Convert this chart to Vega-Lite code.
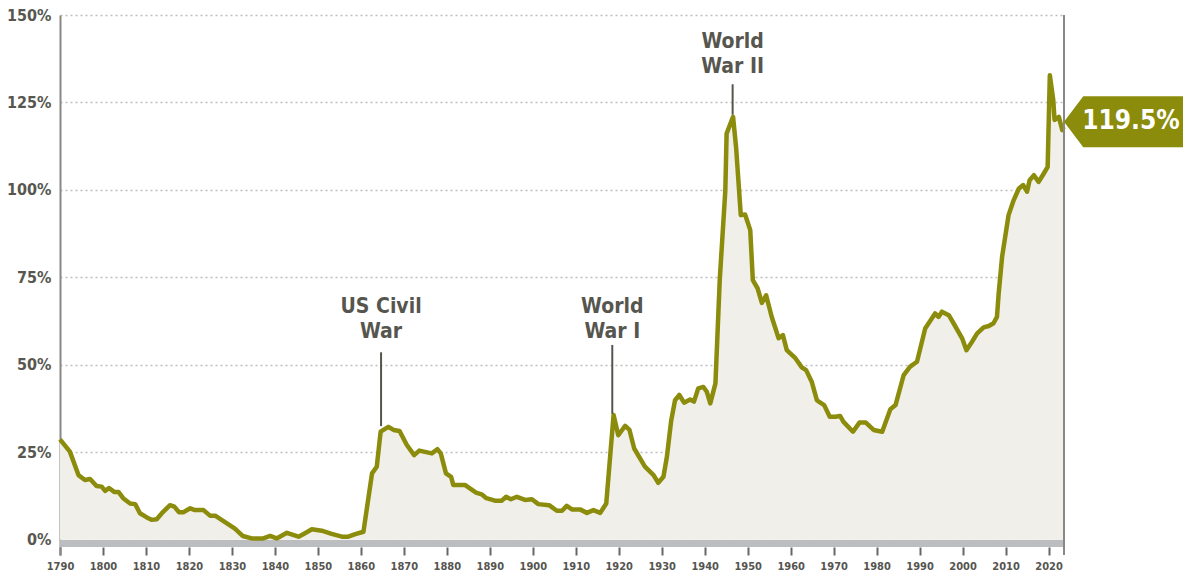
{
  "$schema": "https://vega.github.io/schema/vega-lite/v6.json",
  "width": 1004,
  "height": 540,
  "autosize": {"type": "none"},
  "padding": {"left": 60, "top": 15, "right": 119, "bottom": 20},
  "background": "white",
  "config": {"view": {"stroke": null}, "font": "DejaVu Sans Condensed, Liberation Sans Narrow, DejaVu Sans, sans-serif"},
  "datasets": {
    "debt": [
      {"year": 1790, "v": 28.7}, {"year": 1792.3, "v": 25.2}, {"year": 1794.3, "v": 18.5}, {"year": 1795.8, "v": 17.1},
      {"year": 1797, "v": 17.4}, {"year": 1798.5, "v": 15.4}, {"year": 1799.7, "v": 15.2}, {"year": 1800.5, "v": 14.0},
      {"year": 1801.4, "v": 14.8}, {"year": 1802.6, "v": 13.7}, {"year": 1803.6, "v": 13.7}, {"year": 1804.7, "v": 11.9},
      {"year": 1806.3, "v": 10.4}, {"year": 1807.5, "v": 10.2}, {"year": 1808.6, "v": 7.6}, {"year": 1810.2, "v": 6.4},
      {"year": 1811.3, "v": 5.7}, {"year": 1812.5, "v": 5.9}, {"year": 1814, "v": 8.0}, {"year": 1815.6, "v": 9.9},
      {"year": 1816.6, "v": 9.5}, {"year": 1817.7, "v": 7.9}, {"year": 1818.7, "v": 7.9}, {"year": 1820.3, "v": 9.0},
      {"year": 1821.4, "v": 8.5}, {"year": 1823.4, "v": 8.5}, {"year": 1824.9, "v": 6.9}, {"year": 1826.1, "v": 6.9},
      {"year": 1827.6, "v": 5.7}, {"year": 1829.2, "v": 4.4}, {"year": 1830.7, "v": 3.2}, {"year": 1832.5, "v": 1.1},
      {"year": 1834.6, "v": 0.4}, {"year": 1837.3, "v": 0.4}, {"year": 1838.9, "v": 1.1}, {"year": 1840.4, "v": 0.4},
      {"year": 1842.8, "v": 2.0}, {"year": 1845.5, "v": 0.9}, {"year": 1847, "v": 1.9}, {"year": 1848.6, "v": 3.0},
      {"year": 1850.9, "v": 2.6}, {"year": 1853.2, "v": 1.7}, {"year": 1855.6, "v": 0.9}, {"year": 1857.1, "v": 0.9},
      {"year": 1858.7, "v": 1.6}, {"year": 1860.6, "v": 2.3}, {"year": 1862.6, "v": 19.0}, {"year": 1863.7, "v": 20.9},
      {"year": 1864.6, "v": 30.9}, {"year": 1866.4, "v": 32.3}, {"year": 1867.6, "v": 31.4}, {"year": 1869, "v": 31.1},
      {"year": 1870.7, "v": 27.1}, {"year": 1872.4, "v": 24.2}, {"year": 1873.6, "v": 25.5}, {"year": 1876.5, "v": 24.7},
      {"year": 1877.8, "v": 25.9}, {"year": 1878.6, "v": 24.7}, {"year": 1879.8, "v": 19.0}, {"year": 1881, "v": 18.0},
      {"year": 1881.5, "v": 15.7}, {"year": 1884.2, "v": 15.7}, {"year": 1886.8, "v": 13.5}, {"year": 1888.1, "v": 13.0},
      {"year": 1889.2, "v": 11.9}, {"year": 1891.2, "v": 11.2}, {"year": 1892.8, "v": 11.2}, {"year": 1893.8, "v": 12.3},
      {"year": 1894.9, "v": 11.6}, {"year": 1896.3, "v": 12.3}, {"year": 1898.2, "v": 11.4}, {"year": 1899.8, "v": 11.6},
      {"year": 1901.3, "v": 10.2}, {"year": 1903.8, "v": 9.9}, {"year": 1905.6, "v": 8.3}, {"year": 1906.8, "v": 8.3},
      {"year": 1907.9, "v": 9.7}, {"year": 1909.1, "v": 8.7}, {"year": 1911, "v": 8.7}, {"year": 1912.6, "v": 7.7},
      {"year": 1914.1, "v": 8.5}, {"year": 1915.7, "v": 7.7}, {"year": 1917.1, "v": 10.4}, {"year": 1918.8, "v": 35.7},
      {"year": 1919.9, "v": 29.9}, {"year": 1921.5, "v": 32.6}, {"year": 1922.5, "v": 31.4}, {"year": 1923.6, "v": 26.1},
      {"year": 1926.1, "v": 20.9}, {"year": 1928.1, "v": 18.5}, {"year": 1929.2, "v": 16.3}, {"year": 1930.4, "v": 18.0},
      {"year": 1931.2, "v": 23.7}, {"year": 1932.2, "v": 34.0}, {"year": 1933.1, "v": 39.9}, {"year": 1934.1, "v": 41.4},
      {"year": 1935.2, "v": 39.2}, {"year": 1936.6, "v": 40.1}, {"year": 1937.5, "v": 39.5}, {"year": 1938.5, "v": 43.3},
      {"year": 1939.7, "v": 43.7}, {"year": 1940.5, "v": 42.3}, {"year": 1941.3, "v": 39.0}, {"year": 1942.5, "v": 44.7},
      {"year": 1943.5, "v": 74.2}, {"year": 1944.8, "v": 99.9}, {"year": 1945.1, "v": 116.1}, {"year": 1946.6, "v": 120.9},
      {"year": 1947.3, "v": 112.3}, {"year": 1948.4, "v": 92.8}, {"year": 1949.4, "v": 93.0}, {"year": 1950.6, "v": 88.5},
      {"year": 1951.2, "v": 74.2}, {"year": 1952.3, "v": 71.9}, {"year": 1953.3, "v": 67.7}, {"year": 1954.3, "v": 69.9},
      {"year": 1955.6, "v": 63.7}, {"year": 1957.2, "v": 57.6}, {"year": 1958.2, "v": 58.5}, {"year": 1959.1, "v": 54.2},
      {"year": 1961.1, "v": 51.9}, {"year": 1962.6, "v": 49.3}, {"year": 1963.6, "v": 48.5}, {"year": 1964.9, "v": 45.2},
      {"year": 1966.1, "v": 39.9}, {"year": 1966.9, "v": 39.2}, {"year": 1967.8, "v": 38.5}, {"year": 1969.1, "v": 35.2},
      {"year": 1970.4, "v": 35.2}, {"year": 1971.5, "v": 35.4}, {"year": 1972.3, "v": 33.7}, {"year": 1974.5, "v": 30.9},
      {"year": 1976, "v": 33.5}, {"year": 1977.5, "v": 33.5}, {"year": 1979.3, "v": 31.4}, {"year": 1981.3, "v": 30.9},
      {"year": 1983.2, "v": 37.3}, {"year": 1984.4, "v": 38.5}, {"year": 1986.3, "v": 47.1}, {"year": 1987.8, "v": 49.5},
      {"year": 1989.4, "v": 50.9}, {"year": 1991.3, "v": 60.4}, {"year": 1993.6, "v": 64.7}, {"year": 1994.4, "v": 63.7},
      {"year": 1995.2, "v": 65.2}, {"year": 1996.8, "v": 64.2}, {"year": 1997.9, "v": 61.9}, {"year": 1999.9, "v": 57.6},
      {"year": 2000.9, "v": 54.2}, {"year": 2002.2, "v": 56.6}, {"year": 2003.4, "v": 59.0}, {"year": 2004.9, "v": 60.7},
      {"year": 2006.1, "v": 61.1}, {"year": 2007.2, "v": 61.9}, {"year": 2008, "v": 63.7}, {"year": 2008.4, "v": 70.4},
      {"year": 2009.2, "v": 80.9}, {"year": 2010.7, "v": 92.8}, {"year": 2011.9, "v": 97.1}, {"year": 2013.1, "v": 100.4},
      {"year": 2014.1, "v": 101.4}, {"year": 2015, "v": 99.5}, {"year": 2015.6, "v": 102.8}, {"year": 2016.6, "v": 104.2},
      {"year": 2017.7, "v": 102.3}, {"year": 2018.9, "v": 104.7}, {"year": 2019.8, "v": 106.6}, {"year": 2020.3, "v": 132.8},
      {"year": 2021.1, "v": 125.7}, {"year": 2021.4, "v": 120.0}, {"year": 2022.4, "v": 120.9}, {"year": 2023.2, "v": 117.1},
      {"year": 2023.5, "v": 118.0}
    ],
    "events": [
      {"label": "US Civil\nWar", "year": 1864.7, "ty": 63.7, "top": 53.6, "bottom": 32.5},
      {"label": "World\nWar I", "year": 1918.5, "ty": 63.7, "top": 55.7, "bottom": 36},
      {"label": "World\nWar II", "year": 1946.5, "ty": 139.4, "top": 130.2, "bottom": 121.5}
    ],
    "latest": [{"year": 2023.6, "v": 119.5, "label": "119.5%"}],
    "frame": [{"zero": 0, "xend": 2023.6, "ylo": -4.34, "yhi": 150}]
  },
  "layer": [
    {
      "data": {"name": "debt"},
      "mark": {"type": "area", "fill": "#f1efea"},
      "encoding": {
        "x": {
          "field": "year", "type": "quantitative",
          "scale": {"domain": [1790, 2023.6], "nice": false, "zero": false},
          "axis": {
            "title": null, "values": [1790,1800,1810,1820,1830,1840,1850,1860,1870,1880,1890,1900,1910,1920,1930,1940,1950,1960,1970,1980,1990,2000,2010,2020],
            "format": "d", "domain": false, "grid": false, "tickColor": "#666666", "tickWidth": 2, "tickSize": 8,
            "offset": -8, "labelFontSize": 11, "labelFontWeight": "bold", "labelColor": "#555550", "labelPadding": 5,
            "labelFlush": false, "labelBound": false, "labelOverlap": false
          }
        },
        "y": {
          "field": "v", "type": "quantitative",
          "scale": {"domain": [-4.34, 150], "nice": false, "zero": false},
          "axis": {
            "title": null, "values": [0,25,50,75,100,125,150], "labelExpr": "datum.value + '%'",
            "grid": true, "gridDash": [2,3], "gridColor": "#bdbdbd", "gridWidth": 1.5, "ticks": false,
            "domainColor": "#888888", "domainWidth": 2, "labelFontSize": 16, "labelFontWeight": "bold",
            "labelColor": "#57574f", "labelPadding": 9
          }
        },
        "y2": {"datum": 0}
      }
    },
    {
      "data": {"name": "frame"},
      "mark": {"type": "rule", "color": "#bcbdc0", "strokeWidth": 7, "yOffset": 3.7},
      "encoding": {"y": {"field": "zero", "type": "quantitative"}}
    },
    {
      "data": {"name": "debt"},
      "mark": {"type": "line", "color": "#8b8c0b", "strokeWidth": 4.5, "strokeJoin": "round"},
      "encoding": {
        "x": {"field": "year", "type": "quantitative"},
        "y": {"field": "v", "type": "quantitative"}
      }
    },
    {
      "data": {"name": "events"},
      "mark": {"type": "rule", "color": "#55554f", "strokeWidth": 2},
      "encoding": {
        "x": {"field": "year", "type": "quantitative"},
        "y": {"field": "top", "type": "quantitative"},
        "y2": {"field": "bottom"}
      }
    },
    {
      "data": {"name": "events"},
      "mark": {"type": "text", "align": "center", "baseline": "bottom", "lineBreak": "\n", "fontSize": 21, "lineHeight": 25, "fontWeight": "bold", "color": "#56564f"},
      "encoding": {
        "x": {"field": "year", "type": "quantitative"},
        "y": {"field": "ty", "type": "quantitative"},
        "text": {"field": "label"}
      }
    },
    {
      "data": {"name": "frame"},
      "mark": {"type": "rule", "color": "#888888", "strokeWidth": 2},
      "encoding": {
        "x": {"field": "xend", "type": "quantitative"},
        "y": {"field": "ylo", "type": "quantitative"},
        "y2": {"field": "yhi"}
      }
    },
    {
      "data": {"name": "latest"},
      "mark": {"type": "point", "filled": true, "opacity": 1, "fill": "#8b8c0b", "strokeWidth": 0, "size": 2500,
               "shape": "M0,0L0.77,-1.02L4.8,-1.02L4.8,1.02L0.77,1.02Z"},
      "encoding": {
        "x": {"field": "year", "type": "quantitative"},
        "y": {"field": "v", "type": "quantitative"}
      }
    },
    {
      "data": {"name": "latest"},
      "mark": {"type": "text", "align": "center", "baseline": "middle", "dx": 67, "dy": -1, "fontSize": 26, "fontWeight": "bold", "color": "white"},
      "encoding": {
        "x": {"field": "year", "type": "quantitative"},
        "y": {"field": "v", "type": "quantitative"},
        "text": {"field": "label"}
      }
    }
  ]
}
